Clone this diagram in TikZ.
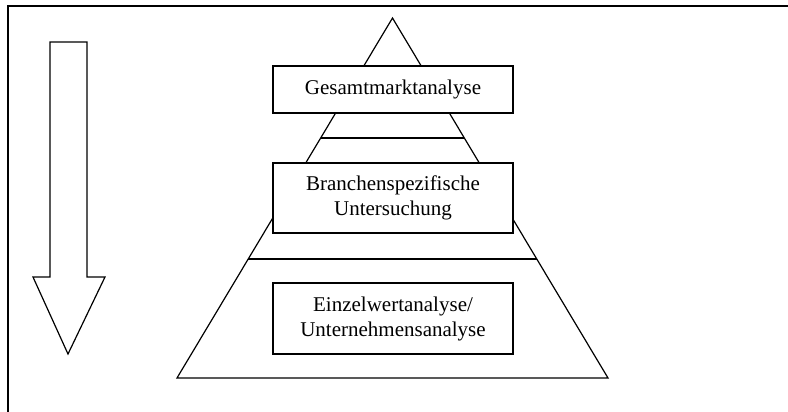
\documentclass[tikz,border=0pt]{standalone}
\usepackage{fontspec}
\setmainfont{Liberation Serif}
\usetikzlibrary{calc}
\begin{document}
\begin{tikzpicture}[x=1pt, y=-1pt, line width=1.2pt,
    stufe/.style={draw, fill=white, minimum width=240pt, align=center,
      inner sep=0pt, font=\fontsize{21}{25}\selectfont}]
    \useasboundingbox (0,0) rectangle (788,412);
    % Rahmen
    \draw (8,412) -- (8,6) -- (788,6);
    % Pfeil nach unten
    \draw (50,42) -- (87,42) -- (87,277) -- (105,277) -- (68,354)
      -- (33,277) -- (50,277) -- cycle;
    % Pyramide
    \coordinate (spitze) at (392.5,18);
    \coordinate (links) at (177,378);
    \coordinate (rechts) at (608,378);
    \draw (spitze) -- (links) -- (rechts) -- cycle;
    \draw ($(spitze)!0.3333!(links)$) -- ($(spitze)!0.3333!(rechts)$);
    \draw ($(spitze)!0.6694!(links)$) -- ($(spitze)!0.6694!(rechts)$);
    % Ebenen
    \node[stufe, minimum height=47pt] (gesamt) at (393,89.5) {Gesamtmarktanalyse};
    \node[stufe, minimum height=70pt] (branche) at (393,198) {Branchenspezifische\\Untersuchung};
    \node[stufe, minimum height=71pt] (einzel) at (393,318.5) {Einzelwertanalyse/\\Unternehmensanalyse};
\end{tikzpicture}
\end{document}
